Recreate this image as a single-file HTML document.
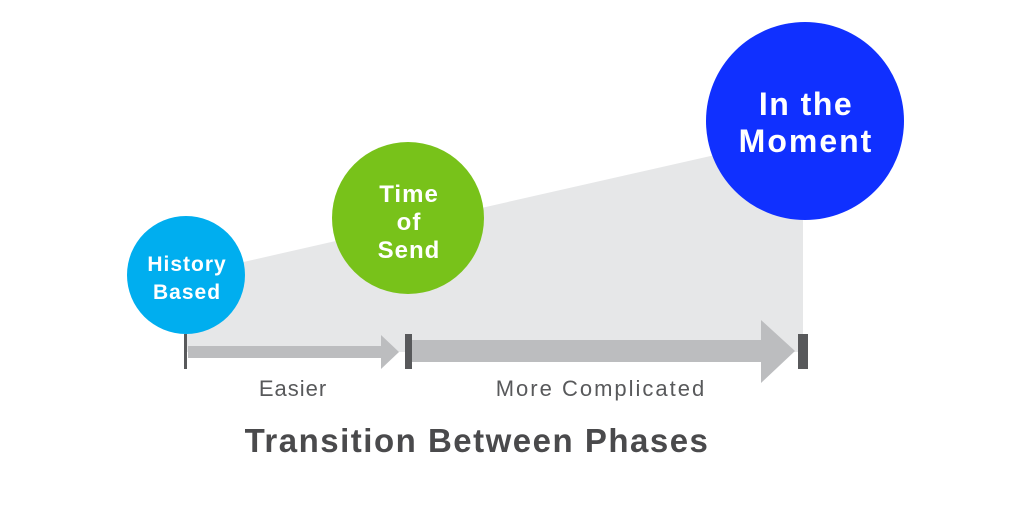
<!DOCTYPE html>
<html><head><style>body{margin:0;background:#fff}svg{display:block}</style></head><body>
<svg width="1024" height="516" viewBox="0 0 1024 516" xmlns="http://www.w3.org/2000/svg" font-family="Liberation Sans, sans-serif">
<polygon points="186,275 803,135 803,352 186,352" fill="#e6e7e8"/>
<rect x="188" y="346" width="194" height="12" fill="#bcbdbf"/>
<polygon points="381,335 399,352 381,369" fill="#bcbdbf"/>
<rect x="184" y="334" width="3" height="35" fill="#58595b"/>
<rect x="405" y="334" width="7" height="35" fill="#58595b"/>
<rect x="412" y="340" width="350" height="22" fill="#bcbdbf"/>
<polygon points="761,320 795,351 761,383" fill="#bcbdbf"/>
<rect x="798" y="334" width="10" height="35" fill="#58595b"/>
<circle cx="186" cy="275" r="59" fill="#00aeef"/>
<circle cx="408" cy="218" r="76" fill="#78c21a"/>
<circle cx="805" cy="121" r="99" fill="#1030ff"/>
<g fill="#fff" font-weight="bold" text-anchor="middle">
<text x="187" y="271" font-size="21" letter-spacing="1">History</text>
<text x="187" y="299" font-size="21" letter-spacing="1">Based</text>
<text x="409" y="202" font-size="24" letter-spacing="1">Time</text>
<text x="409" y="230" font-size="24" letter-spacing="1">of</text>
<text x="409" y="258" font-size="24" letter-spacing="1">Send</text>
<text x="806" y="115" font-size="32" letter-spacing="1.5">In the</text>
<text x="806" y="152" font-size="32" letter-spacing="2">Moment</text>
</g>
<g fill="#58595b" text-anchor="middle">
<text x="293" y="396" font-size="22" letter-spacing="1">Easier</text>
<text x="601" y="396" font-size="22" letter-spacing="2">More Complicated</text>
<text x="477" y="452" font-size="33" font-weight="bold" letter-spacing="1.5" fill="#4a4a4c">Transition Between Phases</text>
</g>
</svg>
</body></html>
